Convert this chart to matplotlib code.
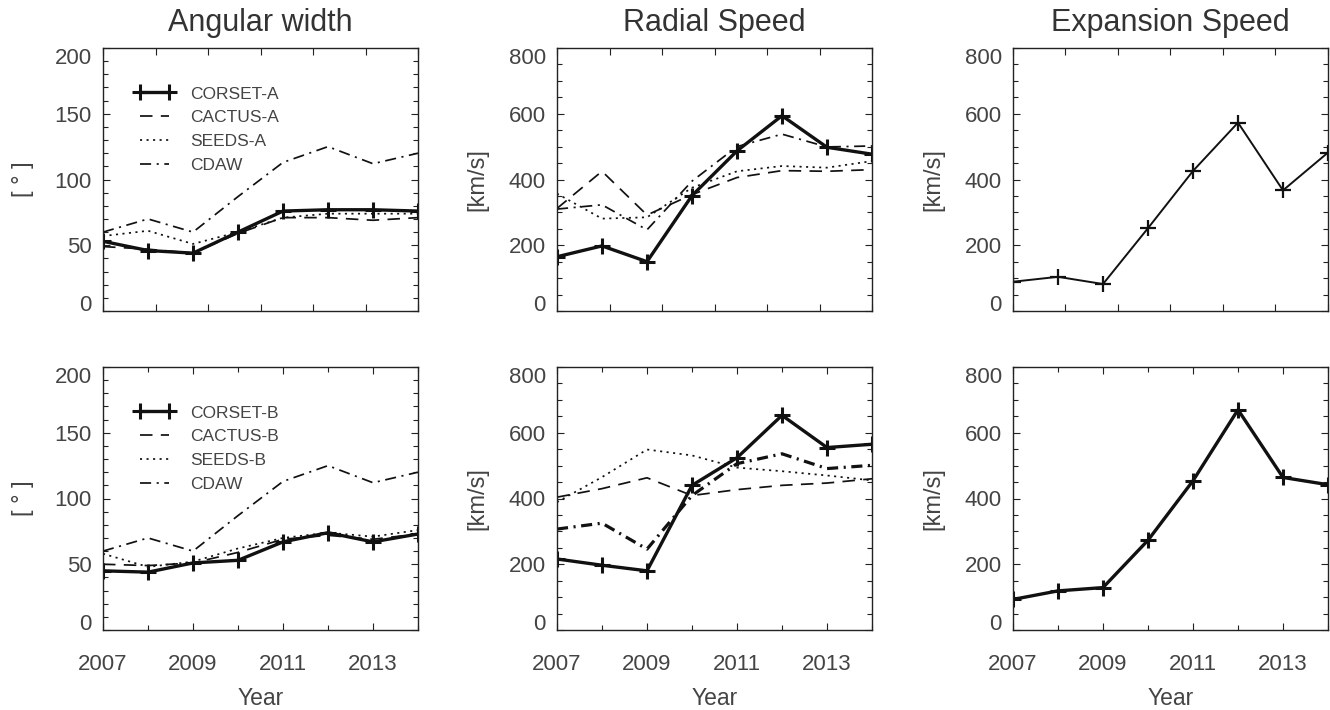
import numpy as np
import matplotlib
matplotlib.use('Agg')
import matplotlib.pyplot as plt
from matplotlib.ticker import MultipleLocator

plt.rcParams['font.family'] = ['Liberation Sans', 'DejaVu Sans']
plt.rcParams['lines.scale_dashes'] = False

years = [2007, 2008, 2009, 2010, 2011, 2012, 2013, 2014]

# Angular width [deg]
aw_corset_a = [53, 46, 44, 60, 76, 77, 77, 76]
aw_cactus_a = [49, 47, 44, 59, 71, 71, 69, 71]
aw_seeds_a = [57, 61, 51, 60, 71, 74, 74, 74]
aw_cdaw = [60, 70, 60, 87, 113, 125, 112, 120]
aw_corset_b = [45, 44, 51, 53, 67, 74, 67, 73]
aw_cactus_b = [50, 49, 51, 59, 69, 72, 69, 73]
aw_seeds_b = [58, 48, 52, 62, 70, 74, 71, 76]

# Radial speed [km/s]
rs_corset_a = [165, 198, 150, 351, 487, 594, 498, 477]
rs_cactus_a = [312, 425, 292, 354, 406, 427, 425, 430]
rs_seeds_a = [357, 281, 285, 375, 425, 441, 436, 456]
rs_cdaw_a = [310, 323, 247, 395, 500, 538, 499, 502]
rs_corset_b = [216, 197, 180, 440, 524, 653, 555, 565]
rs_cactus_b = [404, 430, 463, 409, 427, 440, 447, 460]
rs_seeds_b = [389, 465, 549, 531, 494, 483, 470, 455]
rs_cdaw_b = [307, 325, 246, 409, 506, 536, 491, 501]

# Expansion speed [km/s]
es_a = [89, 104, 82, 252, 426, 573, 367, 482]
es_b = [93, 119, 129, 273, 454, 670, 464, 442]

titles = ['Angular width', 'Radial Speed', 'Expansion Speed']
ylabels = ['[ \u00b0 ]', '[km/s]', '[km/s]']
legend_a = ['CORSET-A', 'CACTUS-A', 'SEEDS-A', 'CDAW']
legend_b = ['CORSET-B', 'CACTUS-B', 'SEEDS-B', 'CDAW']

INK = '#111111'
TXT = '#444444'
DASH = (0, (9, 6))
DOT = (0, (1.5, 3.2))
DASHDOT = (0, (8, 4, 1.5, 4))

W, H = 1330, 710
fig = plt.figure(figsize=(W / 100, H / 100), dpi=100)

lefts = [103, 557, 1013]
tops = [48, 367]
aw, ah = 315, 263


def make_ax(col, row):
    l = lefts[col] / W
    b = 1 - (tops[row] + ah) / H
    return fig.add_axes([l, b, aw / W, ah / H])


def style(ax, ymax, ymajor, yminor, bottom, ylabel):
    ax.set_xlim(2007, 2014)
    ax.set_ylim(0, ymax)
    ax.set_yticks(np.arange(0, ymax + 1, ymajor))
    ax.yaxis.set_minor_locator(MultipleLocator(yminor))
    if bottom:
        ax.set_xticks([2007, 2009, 2011, 2013])
        ax.xaxis.set_minor_locator(MultipleLocator(1))
        ax.set_xlabel('Year', fontsize=16.5, color=TXT, labelpad=9)
    else:
        ax.set_xticks([2007 + 7 * k / 6 for k in range(7)])
        ax.set_xticklabels([])
    ax.tick_params(which='both', direction='in', top=True, right=True,
                   labelsize=16, labelcolor=TXT, color='#222222')
    ax.tick_params(which='major', length=5, width=0.8)
    ax.tick_params(which='minor', length=3.5, width=0.8)
    ax.tick_params(axis='y', pad=8)
    ax.tick_params(axis='x', pad=17)
    for s in ax.spines.values():
        s.set_color('#222222')
        s.set_linewidth(1.0)
    labs = ax.get_yticklabels()
    labs[0].set_va('baseline')
    labs[-1].set_va('top')
    ax.set_ylabel(ylabel, fontsize=17, color=TXT)
    ax.yaxis.set_label_coords(-69 / aw, 0.5)


def add_legend(ax):
    ax.legend(loc='upper left', bbox_to_anchor=(0.10, 0.854), frameon=False,
              fontsize=12.5, numpoints=2, handlelength=2.3, handletextpad=0.9,
              labelspacing=0.5, borderpad=0, borderaxespad=0, labelcolor=TXT)


thick = dict(color=INK, lw=2.4, marker='+', ms=11, mew=2.2)
thin = dict(color=INK, lw=1.25)

# Row A
ax = make_ax(0, 0)
ax.plot(years, aw_corset_a, label=legend_a[0], **thick)
ax.plot(years, aw_cactus_a, ls=DASH, label=legend_a[1], **thin)
ax.plot(years, aw_seeds_a, ls=DOT, label=legend_a[2], **thin)
ax.plot(years, aw_cdaw, ls=DASHDOT, label=legend_a[3], **thin)
style(ax, 200, 50, 10, False, ylabels[0])
add_legend(ax)

ax = make_ax(1, 0)
ax.plot(years, rs_corset_a, **thick)
ax.plot(years, rs_cactus_a, ls=DASH, **thin)
ax.plot(years, rs_seeds_a, ls=DOT, **thin)
ax.plot(years, rs_cdaw_a, ls=DASHDOT, **thin)
style(ax, 800, 200, 50, False, ylabels[1])

ax = make_ax(2, 0)
ax.plot(years, es_a, color=INK, lw=1.4, marker='+', ms=11, mew=1.6)
style(ax, 800, 200, 50, False, ylabels[2])

# Row B
ax = make_ax(0, 1)
ax.plot(years, aw_corset_b, label=legend_b[0], **thick)
ax.plot(years, aw_cactus_b, ls=DASH, label=legend_b[1], **thin)
ax.plot(years, aw_seeds_b, ls=DOT, label=legend_b[2], **thin)
ax.plot(years, aw_cdaw, ls=DASHDOT, label=legend_b[3], **thin)
style(ax, 200, 50, 10, True, ylabels[0])
add_legend(ax)

ax = make_ax(1, 1)
ax.plot(years, rs_corset_b, **thick)
ax.plot(years, rs_cactus_b, ls=DASH, **thin)
ax.plot(years, rs_seeds_b, ls=DOT, **thin)
ax.plot(years, rs_cdaw_b, ls=DASHDOT, color=INK, lw=2.3)
style(ax, 800, 200, 50, True, ylabels[1])

ax = make_ax(2, 1)
ax.plot(years, es_b, **thick)
style(ax, 800, 200, 50, True, ylabels[2])

for col, t in enumerate(titles):
    fig.text((lefts[col] + aw / 2) / W, 1 - 23 / H, t, fontsize=22,
             color='#333333', ha='center', va='center')

fig.savefig('out.png', dpi=100)
